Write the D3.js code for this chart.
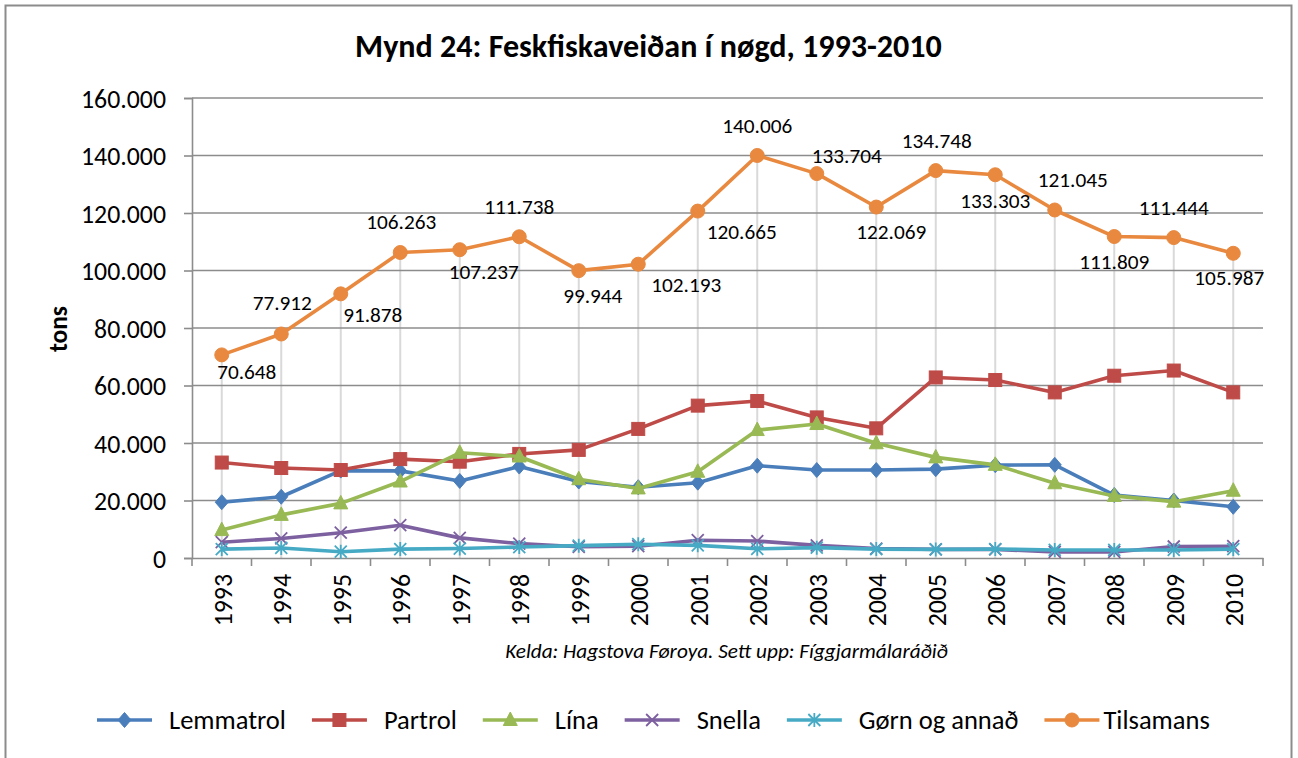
<!DOCTYPE html>
<html>
<head>
<meta charset="utf-8">
<script src="https://cdn.jsdelivr.net/npm/d3@7"></script>
<style>
  html, body { margin: 0; padding: 0; background: #fff; }
  svg { display: block; }
  text { font-family: Carlito, Calibri, Lato, "Noto Sans", sans-serif; fill: #000; }
</style>
</head>
<body>
<svg id="chart" width="1298" height="758"></svg>
<script>
// ---------------- DATA ----------------
const years = ["1993","1994","1995","1996","1997","1998","1999","2000","2001","2002","2003","2004","2005","2006","2007","2008","2009","2010"];
const lemmatrol = [19400, 21300, 30400, 30300, 26800, 31800, 26600, 24600, 26200, 32100, 30600, 30600, 30900, 32300, 32400, 21900, 20000, 17800];
const partrol   = [33200, 31300, 30600, 34400, 33500, 36200, 37600, 44900, 53000, 54600, 48900, 45100, 62800, 61900, 57600, 63400, 65200, 57600];
const lina      = [9700, 15000, 19000, 26600, 36600, 35300, 27400, 24200, 30000, 44500, 46600, 39900, 35000, 32400, 26000, 21600, 19600, 23400];
const snella    = [5500, 6800, 8800, 11400, 7000, 5000, 3900, 4100, 6200, 5900, 4400, 3300, 3000, 3000, 2100, 2100, 4000, 4100];
const gorn      = [3100, 3500, 2200, 3100, 3300, 3800, 4300, 4800, 4400, 3200, 3600, 3100, 3000, 3100, 2800, 2800, 2800, 3100];
const tilsamans = [70648, 77912, 91878, 106263, 107237, 111738, 99944, 102193, 120665, 140006, 133704, 122069, 134748, 133303, 121045, 111809, 111444, 105987];
const seriesNames = ["Lemmatrol", "Partrol", "Lína", "Snella", "Gørn og annað", "Tilsamans"];
const yTicks = [0, 20000, 40000, 60000, 80000, 100000, 120000, 140000, 160000];
const titleText = "Mynd 24: Feskfiskaveiðan í nøgd, 1993-2010";
const yAxisTitle = "tons";
const sourceText = "Kelda: Hagstova Føroya. Sett upp: Fíggjarmálaráðið";

// ---------------- STYLE / PLACEMENT ----------------
const colors = ["#4A7EBB", "#BE4B48", "#98B954", "#7D60A0", "#46AAC5", "#E8893F"];
const markers = ["diamond", "square", "triangle", "x", "star", "circle"];
// Excel-like data label offsets for Tilsamans (pixels from point)
const labelDx = [25, 1, 32, 1, 24, 0, 14, 48, 44, 0, 30, 15, 1, 0, 18, 0, 0, -4];
const labelDy = [17, -31, 21, -30, 22, -30, 25, 21, 21, -29, -18, 25, -30, 26, -30, 25, -30, 25];

const fmt = v => {
  const s = Math.round(v).toString();
  return s.replace(/\B(?=(\d{3})+(?!\d))/g, ".");
};

const svg = d3.select("#chart");
const W = 1298, H = 758;

// outer border
svg.append("rect").attr("x", 5.5).attr("y", 5.5).attr("width", 1286).attr("height", 780)
  .attr("fill", "#fff").attr("stroke", "#8C8C8C").attr("stroke-width", 2);

const plot = { left: 192, right: 1263, top: 98, bottom: 558 };

const x = d3.scaleBand().domain(years).range([plot.left, plot.right]).padding(0);
const cx = d => x(d) + x.bandwidth() / 2;
const y = d3.scaleLinear().domain([0, 160000]).range([plot.bottom, plot.top]);

// helper to fit font-size to a target width
function fitSize(str, weight, style, target, base) {
  const t = svg.append("text").text(str).attr("font-size", base)
    .attr("font-weight", weight).attr("font-style", style);
  const w = t.node().getComputedTextLength();
  t.remove();
  return base * target / w;
}
const tickSize = fitSize("160.000", "normal", "normal", 85, 20);
const labelSize = fitSize("140.006", "normal", "normal", 70, 20);
const titleSize = fitSize(titleText, "bold", "normal", 587, 24);
const sourceSize = fitSize(sourceText, "normal", "italic", 443, 14);
const legendSize = fitSize("Lemmatrol", "normal", "normal", 117, 20);
const tonsSize = fitSize(yAxisTitle, "bold", "normal", 46, 20);

// title
svg.append("text").attr("x", 648.5).attr("y", 46).attr("text-anchor", "middle")
  .attr("dominant-baseline", "central").attr("font-weight", "bold")
  .attr("font-size", titleSize).text(titleText);

// drop lines (behind)
const gDrop = svg.append("g");
gDrop.selectAll("line").data(years).join("line")
  .attr("x1", d => cx(d)).attr("x2", d => cx(d))
  .attr("y1", (d, i) => y(tilsamans[i])).attr("y2", plot.bottom)
  .attr("stroke", "#D9D9D9").attr("stroke-width", 2);

// gridlines
svg.append("g").selectAll("line").data(yTicks.filter(v => v > 0)).join("line")
  .attr("x1", plot.left).attr("x2", plot.right)
  .attr("y1", d => y(d)).attr("y2", d => y(d))
  .attr("stroke", "#8C8C8C").attr("stroke-width", 1.6);

// y axis
const yAxis = d3.axisLeft(y).tickValues(yTicks).tickFormat(fmt).tickSize(8).tickPadding(18);
const gy = svg.append("g").attr("transform", `translate(${plot.left},0)`).call(yAxis);
gy.select(".domain").attr("stroke", "#8C8C8C").attr("stroke-width", 1.6);
gy.selectAll(".tick line").attr("stroke", "#8C8C8C").attr("stroke-width", 1.6);
gy.selectAll(".tick text").attr("font-size", tickSize).attr("fill", "#000")
  .attr("font-family", "Carlito, Calibri, Lato, sans-serif").attr("dy", "0.35em");

// x axis
const xAxis = d3.axisBottom(x).tickSize(0).tickPadding(0);
const gx = svg.append("g").attr("transform", `translate(0,${plot.bottom})`).call(xAxis);
gx.select(".domain").attr("stroke", "#8C8C8C").attr("stroke-width", 1.6);
gx.selectAll(".tick text").attr("font-size", tickSize).attr("fill", "#000")
  .attr("font-family", "Carlito, Calibri, Lato, sans-serif")
  .attr("text-anchor", "end").attr("dy", null)
  .attr("dominant-baseline", "central")
  .attr("transform", "translate(1,16) rotate(-90)").attr("y", 0);
// boundary tick marks
const bounds = years.map(d => x(d)).concat([plot.right]);
gx.append("g").selectAll("line").data(bounds).join("line")
  .attr("x1", d => d).attr("x2", d => d).attr("y1", 0).attr("y2", 8)
  .attr("stroke", "#8C8C8C").attr("stroke-width", 1.6);

// y title
svg.append("text").attr("transform", "translate(58,329) rotate(-90)")
  .attr("text-anchor", "middle").attr("dominant-baseline", "central")
  .attr("font-weight", "bold").attr("font-size", tonsSize).text(yAxisTitle);

// source
svg.append("text").attr("x", 726.5).attr("y", 651).attr("text-anchor", "middle")
  .attr("dominant-baseline", "central").attr("font-style", "italic")
  .attr("font-size", sourceSize).text(sourceText);

// marker drawing
function drawMarker(g, type, color, px, py, s) {
  s = s || 1;
  if (type === "diamond") {
    g.append("path").attr("d", `M${px},${py - 7.5 * s}L${px + 6.5 * s},${py}L${px},${py + 7.5 * s}L${px - 6.5 * s},${py}Z`)
      .attr("fill", color).attr("stroke", color).attr("stroke-width", 1);
  } else if (type === "square") {
    g.append("rect").attr("x", px - 6.5 * s).attr("y", py - 6.5 * s).attr("width", 13 * s).attr("height", 13 * s)
      .attr("fill", color).attr("stroke", color).attr("stroke-width", 1);
  } else if (type === "triangle") {
    g.append("path").attr("d", `M${px},${py - 8 * s}L${px + 7 * s},${py + 5.5 * s}L${px - 7 * s},${py + 5.5 * s}Z`)
      .attr("fill", color).attr("stroke", color).attr("stroke-width", 1);
  } else if (type === "x") {
    const r = 6;
    g.append("path").attr("d", `M${px - r},${py - r}L${px + r},${py + r}M${px - r},${py + r}L${px + r},${py - r}`)
      .attr("stroke", color).attr("stroke-width", 1.8).attr("fill", "none");
  } else if (type === "star") {
    const r = 6;
    g.append("path").attr("d", `M${px - r},${py - r}L${px + r},${py + r}M${px - r},${py + r}L${px + r},${py - r}M${px},${py - r - 1}L${px},${py + r + 1}`)
      .attr("stroke", color).attr("stroke-width", 1.8).attr("fill", "none");
  } else if (type === "circle") {
    g.append("circle").attr("cx", px).attr("cy", py).attr("r", 7)
      .attr("fill", color).attr("stroke", color).attr("stroke-width", 1);
  }
}

const allSeries = [lemmatrol, partrol, lina, snella, gorn, tilsamans];
const line = d3.line().x((d, i) => cx(years[i])).y(d => y(d));
allSeries.forEach((vals, si) => {
  const g = svg.append("g");
  g.append("path").datum(vals).attr("d", line).attr("fill", "none")
    .attr("stroke", colors[si]).attr("stroke-width", 3.6).attr("stroke-linejoin", "round");
  vals.forEach((v, i) => drawMarker(g, markers[si], colors[si], cx(years[i]), y(v)));
});

// data labels
svg.append("g").selectAll("text").data(tilsamans).join("text")
  .attr("x", (d, i) => cx(years[i]) + labelDx[i])
  .attr("y", (d, i) => y(d) + labelDy[i])
  .attr("text-anchor", "middle").attr("dominant-baseline", "central")
  .attr("font-size", labelSize).text(d => fmt(d));

// legend
const legendY = 720;
const legendTextGap = [17, 17, 17, 17, 17, 4];
let lx = 97;
const gl = svg.append("g");
seriesNames.forEach((name, si) => {
  gl.append("line").attr("x1", lx).attr("x2", lx + 55).attr("y1", legendY).attr("y2", legendY)
    .attr("stroke", colors[si]).attr("stroke-width", 3.6);
  drawMarker(gl, markers[si], colors[si], lx + 27.5, legendY);
  const t = gl.append("text").attr("x", lx + 55 + legendTextGap[si]).attr("y", legendY)
    .attr("dominant-baseline", "central").attr("font-size", legendSize).text(name);
  lx = lx + 55 + legendTextGap[si] + t.node().getComputedTextLength() + 26;
});
</script>
</body>
</html>
